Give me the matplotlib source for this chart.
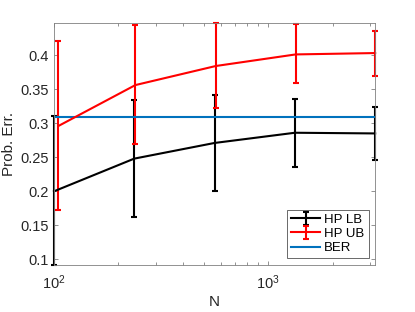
import numpy as np
import matplotlib
matplotlib.use('Agg')
import matplotlib.pyplot as plt
from matplotlib.ticker import LogLocator, NullFormatter, FixedLocator

plt.rcParams['font.family'] = ['Liberation Sans', 'DejaVu Sans']

# sample sizes (log spaced)
N_lb = [100, 237, 562, 1334, 3162]
N_ub = [105, 240, 570, 1345, 3162]

# lower bound (black)
lb_mean = [0.200, 0.248, 0.271, 0.286, 0.285]
lb_low = [0.092, 0.162, 0.200, 0.235, 0.246]
lb_high = [0.310, 0.334, 0.341, 0.335, 0.324]

# upper bound (red)
ub_mean = [0.296, 0.356, 0.384, 0.401, 0.403]
ub_low = [0.173, 0.270, 0.323, 0.359, 0.370]
ub_high = [0.420, 0.444, 0.447, 0.445, 0.436]

ber = 0.309

gray = (0.15, 0.15, 0.15)
axcol = (0.5, 0.5, 0.5)

fig = plt.figure(figsize=(4.15, 3.12), dpi=100)
ax = fig.add_axes([0.130, 0.151, 0.774, 0.775])

lb_err = [np.array(lb_mean) - np.array(lb_low), np.array(lb_high) - np.array(lb_mean)]
ub_err = [np.array(ub_mean) - np.array(ub_low), np.array(ub_high) - np.array(ub_mean)]

h1 = ax.errorbar(N_lb, lb_mean, yerr=lb_err, color='black', lw=1.5, capsize=2.5,
                 capthick=1.5, elinewidth=1.5, label='HP LB', clip_on=False)
h2 = ax.errorbar(N_ub, ub_mean, yerr=ub_err, color='red', lw=1.5, capsize=2.5,
                 capthick=1.5, elinewidth=1.5, label='HP UB', clip_on=False)
h3, = ax.plot([100, 3162], [ber, ber], color=(0, 0.447, 0.741), lw=1.5, label='BER')

ax.set_xscale('log')
ax.set_xlim(100, 3162)
ax.set_ylim(0.092, 0.447)

ax.xaxis.set_major_locator(LogLocator(base=10))
ax.xaxis.set_minor_locator(LogLocator(base=10, subs=np.arange(2, 10)))
ax.xaxis.set_minor_formatter(NullFormatter())
ax.yaxis.set_major_locator(FixedLocator([0.1, 0.15, 0.2, 0.25, 0.3, 0.35, 0.4]))
ax.set_yticklabels(['0.1', '0.15', '0.2', '0.25', '0.3', '0.35', '0.4'])

ax.tick_params(which='both', direction='in', top=True, right=True,
               colors=axcol, labelcolor=gray, labelsize=10.5, width=0.6)
ax.tick_params(which='major', length=3)
ax.tick_params(which='minor', length=2)
ax.tick_params(axis='x', which='major', pad=6)
for s in ax.spines.values():
    s.set_color(axcol)
    s.set_linewidth(0.6)

ax.set_xlabel('N', color=gray, fontsize=11, labelpad=2)
ax.set_ylabel('Prob. Err.', color=gray, fontsize=11, labelpad=3)

leg = ax.legend([h1, h2, h3], ['HP LB', 'HP UB', 'BER'], loc='lower right',
                fontsize=9.5, frameon=True, fancybox=False,
                edgecolor=gray, handlelength=2.2, borderpad=0.3,
                labelspacing=0.15, handletextpad=0.3, borderaxespad=0.5)
leg.get_frame().set_linewidth(0.6)
for t in leg.get_texts():
    t.set_color('black')

fig.savefig('out.png', dpi=100)
